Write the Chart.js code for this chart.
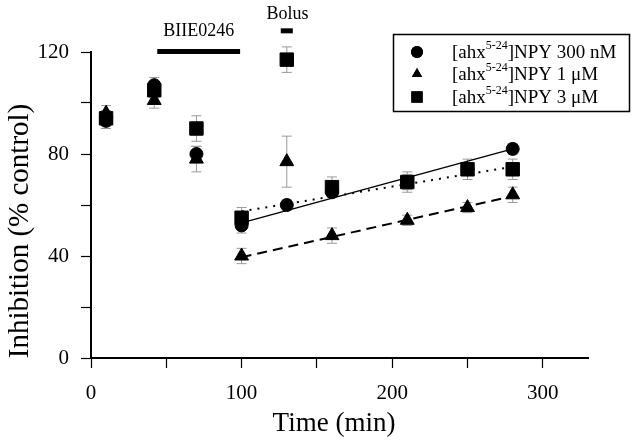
<!DOCTYPE html>
<html>
<head>
<meta charset="utf-8">
<script src="https://cdn.jsdelivr.net/npm/chart.js@4/dist/chart.umd.min.js"></script>
<style>
  body { margin: 0; background: #fff; }
  #wrap { width: 640px; height: 445px; }
</style>
</head>
<body>
<div id="wrap"><canvas id="myChart" width="640" height="445"></canvas></div>
<script>
// time points (min)
const times = [10, 42, 70, 100, 130, 160, 210, 250, 280];

// inhibition (% control) for each dose
const nm300 = [93, 107, 80, 52, 60, 65, 69, 74, 82];
const um1 = [96, 101, 78, 40, 77, 48, 54, 59, 64];
const um3 = [94, 105, 90, 55, 117, 67, 69, 74, 74];

// error bars (+/-)
const err300 = [3, 3, 3, 3, 2, 2, 3, 2, 2];
const err1 = [3, 3, 5, 3, 10, 3, 2, 2, 3];
const err3 = [3, 3, 5, 4, 5, 4, 4, 4, 4];

// regression lines, start and end
const fitX = [100, 280];
const fit300 = [53, 82];
const fit1 = [39.5, 63.5];
const fit3 = [57.5, 75];

const xTicks = [0, 50, 100, 150, 200, 250, 300];
const legendLabels = ['NPY 300 nM', 'NPY 1 \u03bcM', 'NPY 3 \u03bcM'];

const serif = '"Liberation Serif", "DejaVu Serif", serif';

function pts(xs, ys) {
  return xs.map(function (x, i) { return { x: x, y: ys[i] }; });
}

const extras = {
  id: 'extras',
  beforeDatasetsDraw(chart) {
    const ctx = chart.ctx;
    const xs = chart.scales.x, ys = chart.scales.y;
    const sets = [[nm300, err300], [um1, err1], [um3, err3]];
    ctx.save();
    ctx.strokeStyle = '#999';
    ctx.lineWidth = 1;
    sets.forEach(function (s) {
      times.forEach(function (t, j) {
        const px = xs.getPixelForValue(t);
        const top = ys.getPixelForValue(s[0][j] + s[1][j]);
        const bot = ys.getPixelForValue(s[0][j] - s[1][j]);
        ctx.beginPath();
        ctx.moveTo(px, top); ctx.lineTo(px, bot);
        ctx.moveTo(px - 5, top); ctx.lineTo(px + 5, top);
        ctx.moveTo(px - 5, bot); ctx.lineTo(px + 5, bot);
        ctx.stroke();
      });
    });
    ctx.restore();
  },
  afterDraw(chart) {
    const ctx = chart.ctx;
    const xs = chart.scales.x, ys = chart.scales.y;
    ctx.save();
    // treatment bars
    ctx.fillStyle = '#000';
    ctx.fillRect(xs.getPixelForValue(44), ys.getPixelForValue(120) - 3, xs.getPixelForValue(99) - xs.getPixelForValue(44), 5);
    ctx.fillRect(xs.getPixelForValue(126), ys.getPixelForValue(128.5) - 2, xs.getPixelForValue(134) - xs.getPixelForValue(126), 5);
    ctx.font = '18px ' + serif;
    ctx.textAlign = 'center';
    ctx.textBaseline = 'alphabetic';
    ctx.fillText('BIIE0246', xs.getPixelForValue(71.5), 36);
    ctx.fillText('Bolus', xs.getPixelForValue(130.5), 19);

    // axis titles
    ctx.font = '27px ' + serif;
    ctx.textBaseline = 'middle';
    ctx.fillText('Time (min)', 334, 424);
    ctx.save();
    ctx.translate(20, 231);
    ctx.rotate(-Math.PI / 2);
    ctx.font = '29px ' + serif;
    ctx.fillText('Inhibition (% control)', 0, 0);
    ctx.restore();

    // legend box
    ctx.strokeStyle = '#000';
    ctx.lineWidth = 1.5;
    ctx.strokeRect(393.5, 34.5, 236, 77);
    const rows = [52, 74, 97];
    const styles = ['circle', 'triangle', 'rect'];
    const sizes = [6, 6, 8];
    rows.forEach(function (y, i) {
      ctx.fillStyle = '#000';
      Chart.helpers.drawPoint(ctx, { pointStyle: styles[i], radius: sizes[i], borderWidth: 0 }, 417, y);
      ctx.fill();
      ctx.textAlign = 'left';
      ctx.textBaseline = 'middle';
      ctx.font = '19px ' + serif;
      let x = 452;
      ctx.fillText('[ahx', x, y + 1);
      x += ctx.measureText('[ahx').width;
      ctx.font = '12px ' + serif;
      ctx.fillText('5-24', x, y - 6);
      x += ctx.measureText('5-24').width;
      ctx.font = '19px ' + serif;
      ctx.fillText(']' + legendLabels[i], x, y + 1);
    });
    ctx.restore();
  }
};

const config = {
  type: 'scatter',
  data: {
    datasets: [
      { label: 'fit300', type: 'line', data: pts(fitX, fit300), borderColor: '#000', borderWidth: 1.5, pointRadius: 0, fill: false },
      { label: 'fit1', type: 'line', data: pts(fitX, fit1), borderColor: '#000', borderWidth: 2, borderDash: [10, 6], pointRadius: 0, fill: false },
      { label: 'fit3', type: 'line', data: pts(fitX, fit3), borderColor: '#000', borderWidth: 2, borderDash: [2, 6], pointRadius: 0, fill: false },
      { label: '300 nM', data: pts(times, nm300), pointStyle: 'circle', pointRadius: 6.5, backgroundColor: '#000', borderColor: '#000', clip: false },
      { label: '1 uM', data: pts(times, um1), pointStyle: 'triangle', pointRadius: 8, backgroundColor: '#000', borderColor: '#000', clip: false },
      { label: '3 uM', data: pts(times, um3), pointStyle: 'rect', pointRadius: 9.5, backgroundColor: '#000', borderColor: '#000', clip: false }
    ]
  },
  options: {
    responsive: false,
    animation: false,
    layout: { padding: { top: 52, right: 52, left: 0, bottom: 0 } },
    plugins: { legend: { display: false }, tooltip: { enabled: false } },
    scales: {
      x: {
        type: 'linear',
        min: 0,
        max: 330,
        afterFit: function (s) { s.height = 87; },
        afterBuildTicks: function (s) { s.ticks = xTicks.map(function (v) { return { value: v }; }); },
        ticks: {
          autoSkip: false,
          maxRotation: 0,
          color: '#000',
          padding: 13,
          font: { family: serif, size: 21 },
          callback: function (v) { return v % 100 === 0 ? v : ''; }
        },
        grid: { drawOnChartArea: false, drawTicks: true, tickLength: 10, tickColor: '#000', tickWidth: 1.2 },
        border: { display: true, color: '#000', width: 2 }
      },
      y: {
        min: 0,
        max: 120,
        afterFit: function (s) { s.width = 91; },
        ticks: {
          stepSize: 20,
          color: '#000',
          padding: 12,
          font: { family: serif, size: 21 },
          callback: function (v) { return v % 40 === 0 ? v : ''; }
        },
        grid: { drawOnChartArea: false, drawTicks: true, tickLength: 10, tickColor: '#000', tickWidth: 1.2 },
        border: { display: true, color: '#000', width: 2 }
      }
    }
  },
  plugins: [extras]
};

const myChart = new Chart(document.getElementById('myChart').getContext('2d'), config);
</script>
</body>
</html>
